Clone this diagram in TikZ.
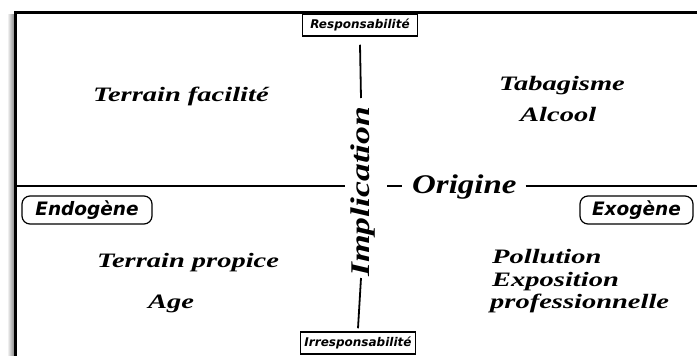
\documentclass[tikz,border=0pt]{standalone}
\usepackage{fontspec}
\usetikzlibrary{calc}
\newfontfamily\bodyf[FakeStretch=1.39]{Liberation Serif}
\newfontfamily\bigf[FakeStretch=1.22]{Liberation Serif}
\newfontfamily\implf[FakeStretch=1.32]{Liberation Serif}
\newfontfamily\labf{DejaVu Sans}
\begin{document}
\begin{tikzpicture}[x=1pt,y=-1pt,
  item/.style={font=\bodyf\bfseries\itshape\fontsize{20.5}{22}\selectfont, inner sep=0pt, anchor=base west},
  sqbox/.style={draw, line width=1.5pt, font=\labf\bfseries\itshape\fontsize{12}{14}\selectfont, minimum width=115pt, minimum height=22pt, inner sep=0pt},
  rbox/.style={draw, line width=1.2pt, rounded corners=8pt, font=\labf\bfseries\itshape\fontsize{18.5}{22}\selectfont, minimum height=28pt, inner sep=0pt},
  axis/.style={line width=1.8pt},
  frameline/.style={line width=3pt}]
\useasboundingbox (0,0) rectangle (697,356);
% shadow and frame
\fill[left color=white, right color=black!45] (7,14) rectangle (14,356);
\draw[frameline] (15,356) -- (15,12) -- (697,12);
% boxes
\node[sqbox] (resp) at (360,25) {Responsabilité};
\node[sqbox] (irr) at (358,343) {Irresponsabilité};
\node[rbox, minimum width=130pt] (endo) at (87,210) {Endogène};
\node[rbox, minimum width=113pt] (exo) at (636.5,210) {Exogène};
% axis labels
\node[font=\implf\bfseries\itshape\fontsize{27}{30}\selectfont, inner sep=0pt, anchor=base west, rotate=90] (impl) at (369,277) {Implication};
\node[font=\bigf\bfseries\itshape\fontsize{27}{30}\selectfont, inner sep=0pt, anchor=base west] (orig) at (412,193) {Origine};
% axes
\coordinate (vt) at (361,98);
\coordinate (vb) at (361,278);
\coordinate (hl) at (17,186);
\coordinate (hm) at (345,186);
\coordinate (dl) at (387,186);
\coordinate (hr) at (697,186);
\draw[axis] ($(resp.south)+(0,8)$) -- (vt);
\draw[axis] (vb) -- ($(irr.north)+(0,-3)$);
\draw[axis] (hl) -- (hm);
\draw[axis] (dl) -- ($(orig.west |- dl)+(-10,0)$);
\draw[axis] ($(orig.east |- dl)+(9,0)$) -- (hr);
% quadrant texts
\node[item] (tf) at (93,101) {Terrain facilité};
\node[item] (tab) at (499,90) {Tabagisme};
\node[item] (alc) at (520,121) {Alcool};
\node[item] (tp) at (97,267) {Terrain propice};
\node[item] (age) at (148,308) {Age};
\node[item] (pol) at (492,263) {Pollution};
\node[item] (expo) at (492,286) {Exposition};
\node[item] (prof) at (490,308) {professionnelle};
\end{tikzpicture}
\end{document}
